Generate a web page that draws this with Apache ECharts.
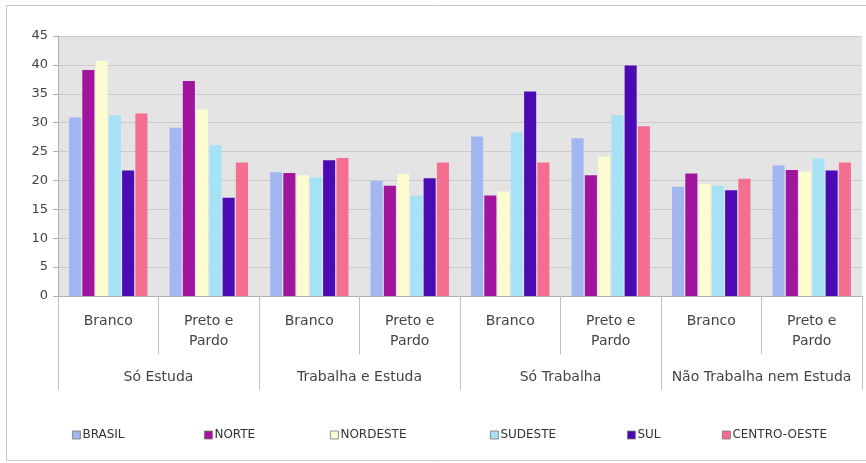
<!DOCTYPE html>
<html><head><meta charset="utf-8">
<script src="https://cdn.jsdelivr.net/npm/echarts@6/dist/echarts.min.js"></script>
<style>html,body{margin:0;padding:0;background:#fff}#c{width:866px;height:463px}</style>
</head><body><div id="c"></div>
<script>
var subCategories = ['Branco','Preto e\nPardo','Branco','Preto e\nPardo','Branco','Preto e\nPardo','Branco','Preto e\nPardo'];
var groups = ['Só Estuda','Trabalha e Estuda','Só Trabalha','Não Trabalha nem Estuda'];
var yTicks = [0,5,10,15,20,25,30,35,40,45];
var seriesNames = ['BRASIL','NORTE','NORDESTE','SUDESTE','SUL','CENTRO-OESTE'];
var brasil      = [30.9, 29.1, 21.4, 19.9, 27.6, 27.3, 18.9, 22.6];
var norte       = [39.1, 37.2, 21.3, 19.1, 17.4, 20.9, 21.2, 21.8];
var nordeste    = [40.7, 32.3, 20.9, 21.1, 18.1, 24.1, 19.4, 21.5];
var sudeste     = [31.3, 26.1, 20.5, 17.4, 28.3, 31.3, 19.1, 23.8];
var sul         = [21.7, 17.0, 23.5, 20.4, 35.4, 39.9, 18.3, 21.7];
var centroOeste = [31.6, 23.1, 23.9, 23.1, 23.1, 29.4, 20.3, 23.1];
var values = [brasil, norte, nordeste, sudeste, sul, centroOeste];
var colors = ['#a2b6f2','#a0149e','#fdfbd0','#a6e2f6','#4c0ab4','#f46e90'];
var legendLeft = [67, 199, 325, 485, 622, 717];

var FONT = 'DejaVu Sans';
var chart = echarts.init(document.getElementById('c'), null, {renderer:'canvas'});
var series = seriesNames.map(function(n,i){
  return {name:n, type:'bar', xAxisIndex:0, yAxisIndex:0, data: values[i],
    barGap:'10%', barCategoryGap:'22%',
    itemStyle:{color:colors[i]}};
});
var legends = seriesNames.map(function(n,i){
  return {data:[n], left:legendLeft[i], top:424, itemWidth:8, itemHeight:8, icon:'rect',
    itemStyle:{borderColor:'#777', borderWidth:0.8},
    textStyle:{fontFamily:FONT, fontSize:12, color:'#333', padding:[0,0,0,-3]}};
});
chart.setOption({
  animation:false,
  backgroundColor:'#fff',
  graphic:[{type:'rect', shape:{x:6.5,y:5.5,width:880,height:455}, style:{fill:null, stroke:'#c8c8c8', lineWidth:1}, z:-10}],
  legend: legends,
  grid:{left:58, right:4, top:36, bottom:167, show:true, backgroundColor:'#e4e4e4', borderWidth:0},
  xAxis:[
    {type:'category', data:subCategories, position:'bottom',
     axisLine:{show:true, lineStyle:{color:'#b0b0b0'}},
     axisTick:{show:true, length:58, interval:0, lineStyle:{color:'#c0c0c0'}},
     axisLabel:{interval:0, margin:15, fontFamily:FONT, fontSize:14, color:'#444', lineHeight:20}},
    {type:'category', data:groups, position:'bottom',
     axisLine:{show:false},
     axisTick:{show:true, length:94, interval:0, lineStyle:{color:'#c0c0c0'}},
     axisLabel:{interval:0, margin:74, fontFamily:FONT, fontSize:14, color:'#444'}}
  ],
  yAxis:{type:'value', min:yTicks[0], max:yTicks[yTicks.length-1], interval:yTicks[1]-yTicks[0],
    axisLine:{show:true, lineStyle:{color:'#b0b0b0'}},
    axisTick:{show:true, length:5, lineStyle:{color:'#b0b0b0'}},
    axisLabel:{fontFamily:FONT, fontSize:13, color:'#444', margin:10},
    splitLine:{show:true, lineStyle:{color:'#cbcbcb', width:1}}},
  series: series
});
</script></body></html>
